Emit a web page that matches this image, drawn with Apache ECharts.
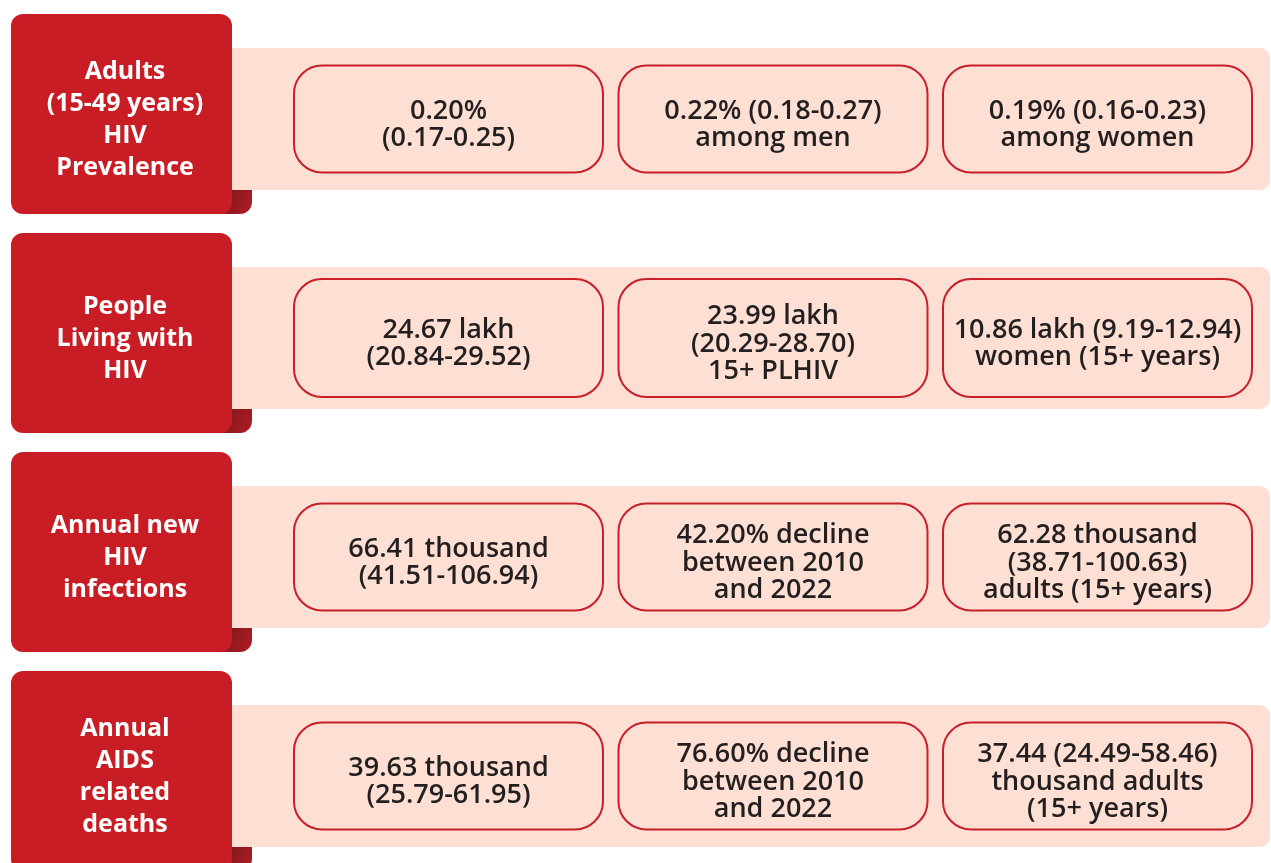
<!DOCTYPE html>
<html>
<head>
<meta charset="utf-8">
<script src="https://cdn.jsdelivr.net/npm/echarts@6/dist/echarts.min.js"></script>
<style>
  html, body { margin: 0; padding: 0; background: #fff; }
  #main { width: 1271px; height: 863px; }
</style>
</head>
<body>
<div id="main"></div>
<script>
// rows (left red labels)
var rowLabels = ['Adults\n(15-49 years)\nHIV\nPrevalence', 'People\nLiving with\nHIV', 'Annual new\nHIV\ninfections', 'Annual\nAIDS\nrelated\ndeaths'];
var columns = ['label', 'overall', 'detail1', 'detail2'];

// cell texts per row
var prevalence = ['0.20%\n(0.17-0.25)', '0.22% (0.18-0.27)\namong men', '0.19% (0.16-0.23)\namong women'];
var plhiv = ['24.67 lakh\n(20.84-29.52)', '23.99 lakh\n(20.29-28.70)\n15+ PLHIV', '10.86 lakh (9.19-12.94)\nwomen (15+ years)'];
var newInfections = ['66.41 thousand\n(41.51-106.94)', '42.20% decline\nbetween 2010\nand 2022', '62.28 thousand\n(38.71-100.63)\nadults (15+ years)'];
var aidsDeaths = ['39.63 thousand\n(25.79-61.95)', '76.60% decline\nbetween 2010\nand 2022', '37.44 (24.49-58.46)\nthousand adults\n(15+ years)'];

var RED = '#c81d24';
var PINK = '#fddfd4';
var cellH = [107, 118, 107, 107];

var rowData = rowLabels.map(function (t, i) { return [0, i, t]; });
var cellData = [];
[prevalence, plhiv, newInfections, aidsDeaths].forEach(function (arr, r) {
  arr.forEach(function (t, c) { cellData.push([c + 1, r, t]); });
});

var chart = echarts.init(document.getElementById('main'));

function renderRow(params, api) {
  var row = api.value(1);
  var c = api.coord([0, row]);
  var last = api.coord([3, row]);
  var right = last[0] + 154.5 + 18;
  return {
    type: 'group',
    children: [
      { // pink band
        type: 'rect',
        shape: { x: c[0] + 100, y: c[1] - 71, width: right - c[0] - 100, height: 142, r: [0, 10, 10, 0] },
        style: { fill: PINK }
      },
      { // folded tab
        type: 'rect',
        shape: { x: c[0] + 88, y: c[1] + 71, width: 40, height: 24, r: [0, 0, 12, 0] },
        style: {
          fill: {
            type: 'linear', x: 0, y: 0, x2: 1, y2: 1,
            colorStops: [{ offset: 0, color: '#7a1217' }, { offset: 0.5, color: '#8e1a1f' }, { offset: 1, color: '#b41c23' }]
          }
        }
      },
      { // red label box
        type: 'rect',
        shape: { x: c[0] - 113, y: c[1] - 105, width: 221, height: 200, r: 12 },
        style: { fill: RED }
      },
      {
        type: 'text',
        style: {
          text: api.value(2),
          x: c[0] + 1, y: c[1] + 1,
          align: 'center', verticalAlign: 'middle',
          font: 'bold 25px "Open Sans"',
          lineHeight: 32,
          fill: '#ffffff'
        }
      }
    ]
  };
}

function renderCell(params, api) {
  var col = api.value(0), row = api.value(1);
  var c = api.coord([col, row]);
  var h = cellH[row];
  return {
    type: 'group',
    children: [
      {
        type: 'rect',
        shape: { x: c[0] - 154.5, y: c[1] - h / 2, width: 309, height: h, r: 28 },
        style: { fill: PINK, stroke: '#c8202a', lineWidth: 2 }
      },
      {
        type: 'text',
        style: {
          text: api.value(2),
          x: c[0], y: c[1] + 6,
          align: 'center', verticalAlign: 'middle',
          font: '600 27px "Open Sans"',
          lineHeight: 27.5,
          fill: '#231f20'
        }
      }
    ]
  };
}

chart.setOption({
  backgroundColor: '#ffffff',
  animation: false,
  grid: { left: -38.25, top: 9.5, width: 1298, height: 876, outerBoundsMode: 'none' },
  xAxis: { type: 'category', data: columns, show: false },
  yAxis: { type: 'category', data: rowLabels, inverse: true, show: false },
  series: [
    { type: 'custom', renderItem: renderRow, data: rowData, encode: { x: 0, y: 1 } },
    { type: 'custom', renderItem: renderCell, data: cellData, encode: { x: 0, y: 1 } }
  ]
});
</script>
</body>
</html>
